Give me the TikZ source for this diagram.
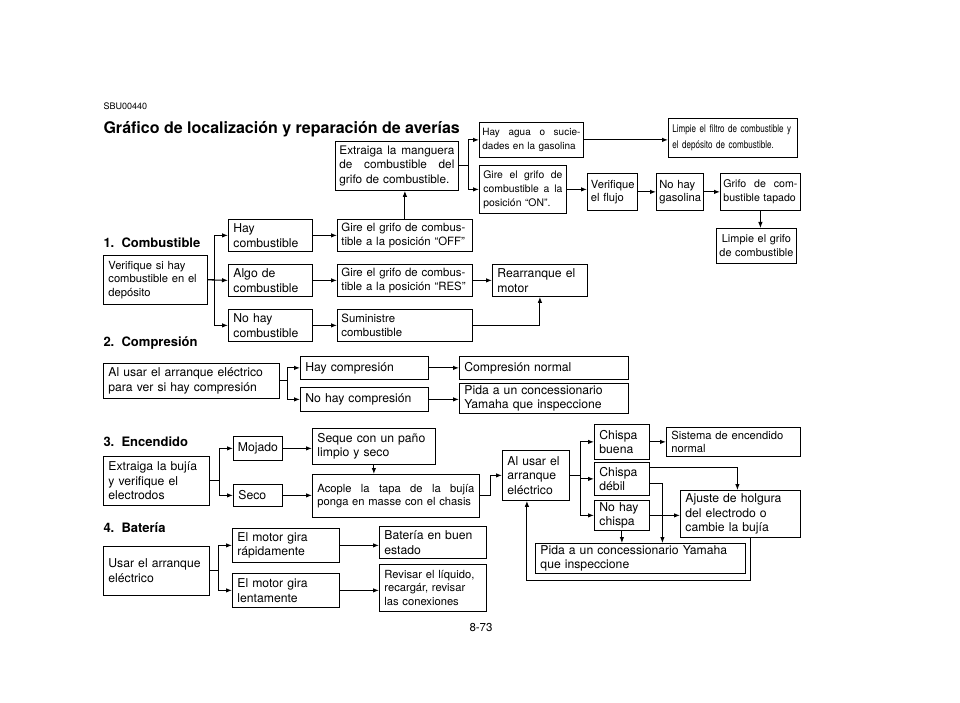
\documentclass[tikz,border=0pt]{standalone}
\usepackage{fontspec}
\setmainfont{TeX Gyre Heros}
\newfontfamily\narrowfont[FakeStretch=0.76]{TeX Gyre Heros}
\usetikzlibrary{arrows.meta}
\hyphenpenalty=10000

\begin{document}
\begin{tikzpicture}[x=1pt, y=-1pt, every node/.style={inner sep=0pt}, line width=1pt]
	\tikzstyle{box} = [draw, line width=0.8pt, anchor=north west, align=left, inner xsep=5pt, inner ysep=1pt, font=\fontsize{12.2}{14.6}\selectfont]
	\tikzstyle{small} = [font=\fontsize{11.2}{13.5}\selectfont]
	\tikzstyle{grifo} = [font=\fontsize{11.4}{14.3}\selectfont]
	\tikzstyle{sec} = [anchor=west, font=\bfseries\fontsize{13}{15}\selectfont]
	\tikzstyle{arr} = [-{Latex[length=6pt,width=4.5pt]}]
	\useasboundingbox[fill=white] (0,0) rectangle (960,703);
	\node[anchor=west, font=\fontsize{9}{10}\selectfont] (code) at (103,106) {SBU00440};
	\node[anchor=west, font=\bfseries\fontsize{16}{18}\selectfont] (title) at (103,129) {Gráfico de localización y reparación de averías};
	\node[sec] (s1) at (103,243) {1.\ \ Combustible};
	\node[sec] (s2) at (103,343) {2.\ \ Compresión};
	\node[sec] (s3) at (103,442) {3.\ \ Encendido};
	\node[sec] (s4) at (103,528) {4.\ \ Batería};
	\node[font=\fontsize{11.5}{13}\selectfont] (page) at (481,628) {8-73};
	\node[box, text width=115, inner xsep=4pt, minimum height=49, font=\fontsize{11.8}{14.5}\selectfont] (mang) at (335,141) {Extraiga\hfill la\hfill manguera\\de\hfill combustible\hfill del\\grifo de combustible.};
	\node[box, text width=98, inner xsep=3pt, minimum height=35, font=\fontsize{10}{13.5}\selectfont] (agua) at (479,122) {Hay\hfill agua\hfill o\hfill sucie-\\dades en la gasolina};
	\node[box, text width=121, inner xsep=4pt, minimum height=39, font=\narrowfont\fontsize{10.6}{15.5}\selectfont] (filtro) at (668,118) {Limpie el filtro de combustible y\\el depósito de combustible.};
	\node[box, text width=79, inner xsep=4pt, minimum height=48, font=\fontsize{10.4}{14}\selectfont] (on) at (479,165) {Gire\hfill el\hfill grifo\hfill de\\combustible\hfill a\hfill la\\posición “ON”.};
	\node[box, small, text width=43, inner xsep=3.5pt, minimum height=37] (flujo) at (587,173) {Verifique\\el flujo};
	\node[box, small, text width=41, inner xsep=3pt, minimum height=37] (nogas) at (656,173) {No hay\\gasolina};
	\node[box, text width=74, inner xsep=3pt, minimum height=37, font=\fontsize{10.6}{14}\selectfont] (tapado) at (720,173) {Grifo\hfill de\hfill com-\\bustible tapado};
	\node[box, align=center, text width=74, inner xsep=3pt, minimum height=35, font=\fontsize{10.9}{14}\selectfont] (lgrifo) at (716,228) {Limpie el grifo\\de combustible};
	\node[box, text width=74, minimum height=32] (hay) at (228,219) {Hay\\combustible};
	\node[box, grifo, text width=127, inner xsep=4pt, minimum height=32] (off) at (337,219) {Gire el grifo de combus-\\tible a la posición “OFF”};
	\node[box, small, text width=94, minimum height=49] (ver) at (103,255) {Verifique si hay\\combustible en el\\depósito};
	\node[box, text width=74, minimum height=32] (algo) at (228,264) {Algo de\\combustible};
	\node[box, grifo, text width=127, inner xsep=4pt, minimum height=32] (res) at (337,264) {Gire el grifo de combus-\\tible a la posición “RES”};
	\node[box, text width=85, minimum height=32] (rearr) at (492,264) {Rearranque el\\motor};
	\node[box, text width=74, minimum height=32] (nohay) at (228,309) {No hay\\combustible};
	\node[box, grifo, text width=127, inner xsep=4pt, minimum height=32] (sum) at (337,309) {Suministre\\combustible};
	\node[box, text width=166, minimum height=35] (comp) at (103,363) {Al usar el arranque eléctrico\\para ver si hay compresión};
	\node[box, text width=118, minimum height=23] (haycomp) at (300,356) {Hay compresión};
	\node[box, text width=118, minimum height=24] (nocomp) at (300,387) {No hay compresión};
	\node[box, text width=159, minimum height=23] (normal) at (459,356) {Compresión normal};
	\node[box, text width=159, minimum height=30] (pidaa) at (459,383) {Pida a un concessionario\\Yamaha que inspeccione};
	\node[box, text width=40, inner xsep=4.5pt, minimum height=24] (mojado) at (233,436) {Mojado};
	\node[box, text width=113, minimum height=36] (seque) at (312,428) {Seque con un paño\\limpio y seco};
	\node[box, text width=96, minimum height=49] (bujia) at (103,456) {Extraiga la bujía\\y verifique el\\electrodos};
	\node[box, text width=39, minimum height=22] (seco) at (233,484) {Seco};
	\node[box, small, text width=157, minimum height=43] (acople) at (312,474) {Acople\hfill la\hfill tapa\hfill de\hfill la\hfill bujía\\ponga en masse con el chasis};
	\node[box, text width=57, minimum height=50] (alusar) at (502,450) {Al usar el\\arranque\\eléctrico};
	\node[box, text width=45, minimum height=35] (buena) at (594,424) {Chispa\\buena};
	\node[box, small, text width=124, minimum height=29] (sistema) at (666,427) {Sistema de encendido\\normal};
	\node[box, text width=45, minimum height=33] (debil) at (594,462) {Chispa\\débil};
	\node[box, text width=45, minimum height=30] (nochispa) at (594,500) {No hay\\chispa};
	\node[box, text width=110, minimum height=47] (ajuste) at (680,490) {Ajuste de holgura\\del electrodo o\\cambie la bujía};
	\node[box, text width=200, minimum height=30] (pidab) at (535,543) {Pida a un concessionario Yamaha\\que inspeccione};
	\node[box, text width=96, minimum height=49] (usar) at (103,546) {Usar el arranque\\eléctrico};
	\node[box, text width=97, minimum height=34] (rapido) at (232,528) {El motor gira\\rápidamente};
	\node[box, text width=97, minimum height=34] (lento) at (232,573) {El motor gira\\lentamente};
	\node[box, text width=97, minimum height=32] (buen) at (379,526) {Batería en buen\\estado};
	\node[box, small, text width=97, minimum height=47] (revisar) at (379,564) {Revisar el líquido,\\recargár, revisar\\las conexiones};
	\draw[arr] (ver.east) -- ++(7,0) |- (hay.west);
	\draw[arr] (ver.east) -- (algo.west);
	\draw[arr] (ver.east) -- ++(7,0) |- (nohay.west);
	\draw[arr] (hay) -- (off);
	\draw[arr] (algo) -- (res);
	\draw[arr] (res) -- (rearr);
	\draw[arr] (nohay) -- (sum);
	\draw[arr] (sum.east) -| (rearr.south);
	\draw[arr] (off.north) -- (off.north |- mang.south);
	\draw[arr] (mang.east) -- ++(10,0) |- (agua.west);
	\draw[arr] (mang.east) -- ++(10,0) |- (on.west);
	\draw[arr] (agua.east) -- (agua.east -| filtro.west);
	\draw[arr] (on.east) -- (on.east -| flujo.west);
	\draw[arr] (flujo) -- (nogas);
	\draw[arr] (nogas) -- (tapado);
	\draw[arr] (tapado.south) -- (tapado.south |- lgrifo.north);
	\draw[arr] (comp.east) -- ++(8,0) |- (haycomp.west);
	\draw[arr] (comp.east) -- ++(8,0) |- (nocomp.west);
	\draw[arr] (haycomp.east) -- (haycomp.east -| normal.west);
	\draw[arr] (nocomp.east) -- (nocomp.east -| pidaa.west);
	\draw[arr] (bujia.east) -- ++(10,0) |- (mojado.west);
	\draw[arr] (bujia.east) -- ++(10,0) |- (seco.west);
	\draw[arr] (mojado.east) -- (mojado.east -| seque.west);
	\draw[arr] (seco.east) -- (seco.east -| acople.west);
	\draw[arr] (seque.south) -- (seque.south |- acople.north);
	\draw[arr] (acople.east) -- ++(11,0) |- (alusar.west);
	\draw[arr] (alusar.east) -- ++(11,0) |- (buena.west);
	\draw[arr] (alusar.east) -- ++(11,0) |- (debil.west);
	\draw[arr] (alusar.east) -- ++(11,0) |- (nochispa.west);
	\draw[arr] (buena) -- (sistema);
	\draw[arr] ([yshift=-5pt]debil.north east) -| ([xshift=-3pt]ajuste.north);
	\draw[arr] ([yshift=-21pt]debil.north east) -| ([xshift=22pt]pidab.north);
	\draw[arr] (nochispa.east) -- (nochispa.east -| ajuste.west);
	\draw[arr] (nochispa.south) -- (nochispa.south |- pidab.north);
	\draw[arr] ([xshift=10pt]ajuste.south) -- ++(0,43) -| ([xshift=-9pt]alusar.south);
	\draw[arr] (usar.east) -- ++(9,0) |- (rapido.west);
	\draw[arr] (usar.east) -- ++(9,0) |- (lento.west);
	\draw[arr] (rapido.east) -- (rapido.east -| buen.west);
	\draw[arr] (lento.east) -- (lento.east -| revisar.west);
\end{tikzpicture}
\end{document}
